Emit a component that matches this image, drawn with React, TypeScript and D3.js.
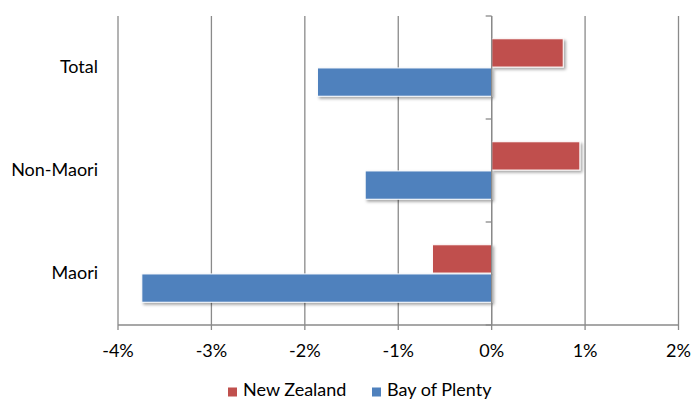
import React from "react";
import * as d3 from "d3";

// Population change by group, percent
const categories = ["Total", "Non-Maori", "Maori"];
const seriesNames = ["New Zealand", "Bay of Plenty"];
const newZealand = [0.766, 0.944, -0.634];
const bayOfPlenty = [-1.865, -1.354, -3.745];
const xTicks = [-4, -3, -2, -1, 0, 1, 2];

const W = 691;
const H = 399;
const colors = ["#C0504D", "#4F81BD"];
const FONT = "Lato, 'Open Sans', sans-serif";
const FS = 18;

export default function App() {
  const left = 118;
  const right = 678.5;
  const top = 16;
  const bottom = 325;

  const x = d3.scaleLinear().domain([-4, 2]).range([left, right]);
  const y = d3.scaleBand<string>().domain(categories).range([top, bottom]);
  const inner = d3
    .scaleBand<string>()
    .domain(seriesNames)
    .range([0, y.bandwidth()])
    .paddingOuter(0.78)
    .paddingInner(0.03);

  const series = [newZealand, bayOfPlenty];
  const gridColor = "#8a8a8a";

  return (
    <div style={{ position: "absolute", left: 0, top: 0 }}>
      <svg width={W} height={H} style={{ display: "block", background: "#fff" }}>
        <defs>
          <filter id="barShadow" x="-10%" y="-30%" width="130%" height="170%">
            <feDropShadow dx="2" dy="2" stdDeviation="1.4" floodColor="#000" floodOpacity="0.35" />
          </filter>
        </defs>

        {/* vertical gridlines */}
        {xTicks.map((t) => (
          <line
            key={`g${t}`}
            x1={x(t)}
            x2={x(t)}
            y1={top}
            y2={bottom}
            stroke={gridColor}
            strokeWidth={1.3}
          />
        ))}

        {/* bottom axis */}
        <line x1={left} x2={right} y1={bottom} y2={bottom} stroke={gridColor} strokeWidth={1.3} />
        {xTicks.map((t) => (
          <line key={`t${t}`} x1={x(t)} x2={x(t)} y1={bottom} y2={bottom + 5} stroke={gridColor} strokeWidth={1.3} />
        ))}

        {/* category axis at zero */}
        {[top, ...categories.map((c) => (y(c) as number) + y.bandwidth())].map((yy, i) => (
          <line key={`c${i}`} x1={x(0) - 6} x2={x(0)} y1={yy} y2={yy} stroke={gridColor} strokeWidth={1.3} />
        ))}

        {/* bars */}
        {categories.map((c, ci) =>
          series.map((vals, si) => {
            const v = vals[ci];
            const y0 = (y(c) as number) + (inner(seriesNames[si]) as number);
            return (
              <rect
                key={`${c}-${si}`}
                x={Math.min(x(0), x(v))}
                y={y0}
                width={Math.abs(x(v) - x(0))}
                height={inner.bandwidth()}
                fill={colors[si]}
                stroke="#fff"
                strokeWidth={1}
                filter="url(#barShadow)"
              />
            );
          })
        )}

        {/* zero axis line drawn over the bars */}
        <line x1={x(0)} x2={x(0)} y1={top} y2={bottom} stroke={gridColor} strokeWidth={1.3} />

        {/* category labels */}
        {categories.map((c) => (
          <text
            key={c}
            x={98}
            y={(y(c) as number) + y.bandwidth() / 2 - 2}
            textAnchor="end"
            dominantBaseline="central"
            fontFamily={FONT}
            fontSize={FS}
            fill="#000"
          >
            {c}
          </text>
        ))}

        {/* tick labels */}
        {xTicks.map((t) => (
          <text
            key={`l${t}`}
            x={x(t)}
            y={357}
            textAnchor="middle"
            fontFamily={FONT}
            fontSize={FS}
            fill="#000"
          >
            {`${t}%`}
          </text>
        ))}

        {/* legend */}
        {seriesNames.map((n, i) => {
          const lx = [228, 372][i];
          return (
            <g key={n}>
              <rect x={lx} y={387.5} width={9} height={9} fill={colors[i]} />
              <text x={lx + 15} y={396} fontFamily={FONT} fontSize={FS} fill="#000">
                {n}
              </text>
            </g>
          );
        })}
      </svg>
    </div>
  );
}
